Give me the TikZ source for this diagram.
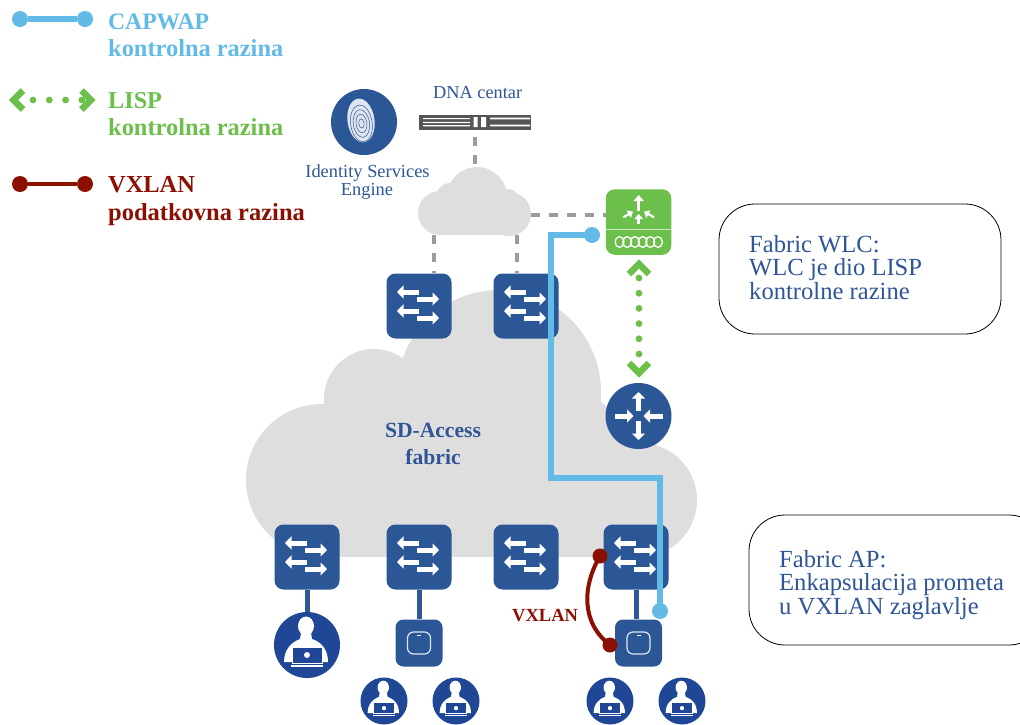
\documentclass[tikz,border=0pt]{standalone}
\usepackage{fontspec}
\setmainfont{Liberation Serif}
\usetikzlibrary{arrows.meta}
\definecolor{swblue}{HTML}{2B5797}
\definecolor{userblue}{HTML}{1F4795}
\definecolor{cloudgray}{HTML}{DEDEDE}
\definecolor{dashgray}{HTML}{9C9C9C}
\definecolor{capblue}{HTML}{62BBE6}
\definecolor{lispgreen}{HTML}{6CBF4B}
\definecolor{vxred}{HTML}{8B1002}
\definecolor{srvgray}{HTML}{555555}
\definecolor{txtblue}{HTML}{2F5597}
\newcommand\fs[1]{\fontsize{#1}{#1}\selectfont}
\tikzset{
  x=1pt,y=-1pt,
  swbox/.style={draw=none,fill=swblue,minimum size=65pt,rounded corners=9pt,inner sep=0pt},
  apbox/.style={draw=none,fill=swblue,minimum size=47pt,rounded corners=8pt,inner sep=0pt},
  disc/.style={circle,draw=none,inner sep=0pt},
  txt/.style={anchor=base west,inner sep=0pt},
  ctxt/.style={anchor=base,inner sep=0pt},
  capdot/.style={circle,fill=capblue,minimum size=16pt,inner sep=0pt},
  reddot/.style={circle,fill=vxred,minimum size=15pt,inner sep=0pt},
  capline/.style={draw=capblue,line width=6.8pt},
  redline/.style={draw=vxred,line width=4pt},
  graydash/.style={draw=dashgray,line width=3.8pt,dash pattern=on 9pt off 9pt},
  lispdots/.style={draw=lispgreen,line width=6.8pt,line cap=round,dash pattern=on 0pt off 15.2pt},
  chevron/.style={draw=lispgreen,line width=6.5pt,miter limit=10},
  whitearrow/.style={draw=white,line width=5pt,-{Triangle[length=6.5pt,width=13pt]}},
  thinarrow/.style={draw=white,line width=2.8pt,-{Triangle[length=5pt,width=8.5pt]}},
  linkline/.style={draw=swblue,line width=5pt},
  callout/.style={draw=black,line width=.8pt,rounded corners=36pt,fill=white},
}
\newcommand\swicon[3]{%
  \node[swbox] (#1) at (#2,#3) {};
  \begin{scope}[shift={(#2,#3)}]
    \draw[whitearrow] (0,-14) -- (-22,-14);
    \draw[whitearrow] (-2,-7) -- (20,-7);
    \draw[whitearrow] (0,5) -- (-22,5);
    \draw[whitearrow] (-2,12) -- (20,12);
  \end{scope}}
\newcommand\usericon[4]{%
  \node[disc,fill=userblue,minimum size=#4*2pt] (#1) at (#2,#3) {};
  \begin{scope}[shift={(#2,#3)},scale=#4/33]
    \fill[white] (-1,-19) ellipse [x radius=8,y radius=9.5];
    \fill[white] (-23,17) .. controls (-23,4) and (-15,-3) .. (-7,-6) -- (-6,-12) -- (4,-12) -- (5,-6) .. controls (14,-3) and (21,4) .. (21,17) -- cycle;
    \filldraw[fill=userblue,draw=white,line width=#4*.03pt] (-15,2) rectangle (15,18);
    \fill[white] (-16,19.5) rectangle (16,21.5);
    \fill[white] (0,10) circle [radius=3];
  \end{scope}}
\newcommand\apicon[3]{%
  \node[apbox] (#1) at (#2,#3) {};
  \begin{scope}[shift={(#2,#3)}]
    \draw[white!85!swblue,line width=1.2pt,rounded corners=6pt] (-11.5,-11) rectangle (11.5,11);
    \draw[white,line width=1.2pt] (-2,-7.5) -- (2,-7.5);
  \end{scope}}
\begin{document}
\begin{tikzpicture}
\useasboundingbox (0,0) rectangle (1020,724);
\clip (0,0) rectangle (1020,724);
\fill[white] (0,0) rectangle (1020,724);

% big cloud
\begin{scope}
  \clip (200,250) rectangle (720,556.5);
  \fill[cloudgray] (322,480) circle [radius=76];
  \fill[cloudgray] (374,399) circle [radius=50];
  \fill[cloudgray] (499,392) circle [radius=102];
  \fill[cloudgray] (640,500) circle [radius=57];
  \fill[cloudgray] (322,440) -- (420,380) -- (598,398) -- (640,443) -- (640,557) -- (322,557) -- cycle;
\end{scope}
% small cloud
\fill[cloudgray] (440,213) circle [radius=22];
\fill[cloudgray] (450,197) circle [radius=14];
\fill[cloudgray] (477,197) circle [radius=30];
\fill[cloudgray] (509,214) circle [radius=22];
\fill[cloudgray] (508,200) circle [radius=11];
\fill[cloudgray] (440,205) rectangle (509,235);
\coordinate (cloudtop) at (475,167);
\coordinate (cloudl) at (434,235);
\coordinate (cloudr) at (517,235);
\coordinate (cloude) at (531,215);

% ISE
\node[disc,fill=swblue,minimum size=66pt] (ise) at (364,122) {};
\begin{scope}[shift={(361,120.5)},rotate=8]
  \fill[white,opacity=.85] (0,0) ellipse [x radius=13.5,y radius=22];
  \foreach \k in {3,6,9,12}
    \draw[swblue,line width=.5pt] (0,3) ellipse [x radius=\k*.9,y radius=\k*1.55];
\end{scope}
\node[ctxt,text=txtblue,font=\fs{18.4}] (iselab1) at (367.5,177) {Identity Services};
\node[ctxt,text=txtblue,font=\fs{18.4}] (iselab2) at (367,195) {Engine};

% DNA server
\node[txt,text=txtblue,font=\fs{18.3}] (dnalab) at (433,98) {DNA centar};
\node[draw=none,fill=srvgray,minimum width=112pt,minimum height=15pt,inner sep=0pt] (dna) at (475,122.5) {};
\fill[white] (423,118) rectangle (470,119.2) (423,121.8) rectangle (470,123) (423,125.2) rectangle (470,126.4);
\fill[white] (473.5,117) rectangle (477.5,127) (481,117) rectangle (486,127);
\fill[white] (490,117.5) rectangle (530,119.3) (490,124.6) rectangle (530,126.4);

% WLC
\node[draw=none,fill=lispgreen,minimum size=65.5pt,rounded corners=9pt,inner sep=0pt] (wlc) at (638.5,222) {};
\draw[white!65!lispgreen,line width=1.2pt] (606,229.5) -- (671,229.5);
\draw[white,line width=3.4pt,-{Triangle[length=6pt,width=10pt]}] (638.7,211) -- (638.7,195);
\draw[thinarrow] (638.7,224) -- (638.7,214);
\draw[thinarrow,line width=2.2pt] (623.3,217.3) -- (633,211.7);
\draw[thinarrow,line width=2.2pt] (654,217.3) -- (644,211.7);
\foreach \x in {619.5,627.2,634.9,642.6,650.3,658}
  \draw[white,line width=1.3pt] (\x,242) ellipse [x radius=4.4,y radius=5.4];

% router
\node[disc,fill=swblue,minimum size=66pt] (router) at (638.5,416) {};
\begin{scope}[shift={(638.5,416)}]
  \draw[whitearrow] (0,-5) -- (0,-24);
  \draw[whitearrow] (0,5) -- (0,24);
  \draw[whitearrow] (-24,0) -- (-5,0);
  \draw[whitearrow] (24,0) -- (5,0);
\end{scope}

% switches
\swicon{s1}{419}{306}
\swicon{s2}{526}{306}
\swicon{s3}{307}{557}
\swicon{s4}{419}{557}
\swicon{s5}{526}{557}
\swicon{s6}{636}{557}

% access
\usericon{u1}{307}{645}{33}
\apicon{ap1}{419}{643}
\apicon{ap2}{638.5}{643}
\usericon{u2}{384}{701}{23.5}
\usericon{u3}{456}{701}{23.5}
\usericon{u4}{610}{701}{23.5}
\usericon{u5}{682}{701}{23.5}

\draw[linkline] (s3.south) -- (u1.north);
\draw[linkline] (s4.south) -- (ap1.north);
\draw[linkline] (s6.south) -- (s6.south |- ap2.north);

% gray dashed
\draw[graydash] (dna.south |- 0,137) -- (cloudtop);
\draw[graydash] (cloudl) -- (cloudl |- s1.north);
\draw[graydash] (cloudr) -- (cloudr |- s2.north);
\draw[graydash] (cloude) -- (wlc.west |- cloude);

% LISP
\coordinate (lispa) at (639,278);
\coordinate (lispb) at (639,356);
\draw[lispdots] (lispa) -- (lispb);
\draw[chevron] (629,274) -- (639,264) -- (649,274);
\draw[chevron] (629,363) -- (639,373) -- (649,363);

% CAPWAP
\node[capdot] (capa) at (592,235) {};
\node[capdot] (capb) at (660,611) {};
\draw[capline,line join=miter] (capa.center) -- (551,235) -- (551,478) -- (660,478) -- (capb.center);

% VXLAN
\node[reddot] (vxa) at (600,556) {};
\node[reddot] (vxb) at (610,645) {};
\draw[redline] (vxa.center) .. controls (583,585) and (580,622) .. (vxb.center);
\node[txt,text=vxred,font=\fs{18.5}\bfseries] (vxlab) at (512,621) {VXLAN};

% fabric label
\node[ctxt,text=txtblue,font=\fs{21.6}\bfseries] (fab1) at (433,437) {SD-Access};
\node[ctxt,text=txtblue,font=\fs{21.6}\bfseries] (fab2) at (433,464) {fabric};

% legend
\node[capdot] (l1a) at (20,19) {};
\node[capdot] (l1b) at (85,19) {};
\draw[capline] (l1a) -- (l1b);
\node[txt,text=capblue,font=\fs{23.6}\bfseries] (t1a) at (108,29) {CAPWAP};
\node[txt,text=capblue,font=\fs{24.4}\bfseries] (t1b) at (108,56.5) {kontrolna razina};

\coordinate (l2a) at (33,100);
\coordinate (l2b) at (82,100);
\draw[lispdots,dash pattern=on 0pt off 16.3pt] (l2a) -- (l2b);
\draw[chevron] (23,90.5) -- (13.5,100) -- (23,109.5);
\draw[chevron] (81.5,90.5) -- (91,100) -- (81.5,109.5);
\node[txt,text=lispgreen,font=\fs{24.2}\bfseries] (t2a) at (108,108) {LISP};
\node[txt,text=lispgreen,font=\fs{24.4}\bfseries] (t2b) at (108,135.5) {kontrolna razina};

\node[reddot,minimum size=16pt] (l3a) at (20,184) {};
\node[reddot,minimum size=16pt] (l3b) at (85,184) {};
\draw[redline] (l3a) -- (l3b);
\node[txt,text=vxred,font=\fs{24.4}\bfseries] (t3a) at (108,192.5) {VXLAN};
\node[txt,text=vxred,font=\fs{24.5}\bfseries] (t3b) at (108,220) {podatkovna razina};

% callouts
\draw[callout] (719,204) rectangle (1001,334);
\node[txt,text=txtblue,font=\fs{24.6}] (c1a) at (749,252) {Fabric WLC:};
\node[txt,text=txtblue,font=\fs{24.6}] (c1b) at (749,275) {WLC je dio LISP};
\node[txt,text=txtblue,font=\fs{24.6}] (c1c) at (749,299) {kontrolne razine};
\draw[callout] (749,515) rectangle (1045,645);
\node[txt,text=txtblue,font=\fs{24.6}] (c2a) at (779,567) {Fabric AP:};
\node[txt,text=txtblue,font=\fs{24.6}] (c2b) at (779,590) {Enkapsulacija prometa};
\node[txt,text=txtblue,font=\fs{24.6}] (c2c) at (779,614) {u VXLAN zaglavlje};
\end{tikzpicture}
\end{document}
